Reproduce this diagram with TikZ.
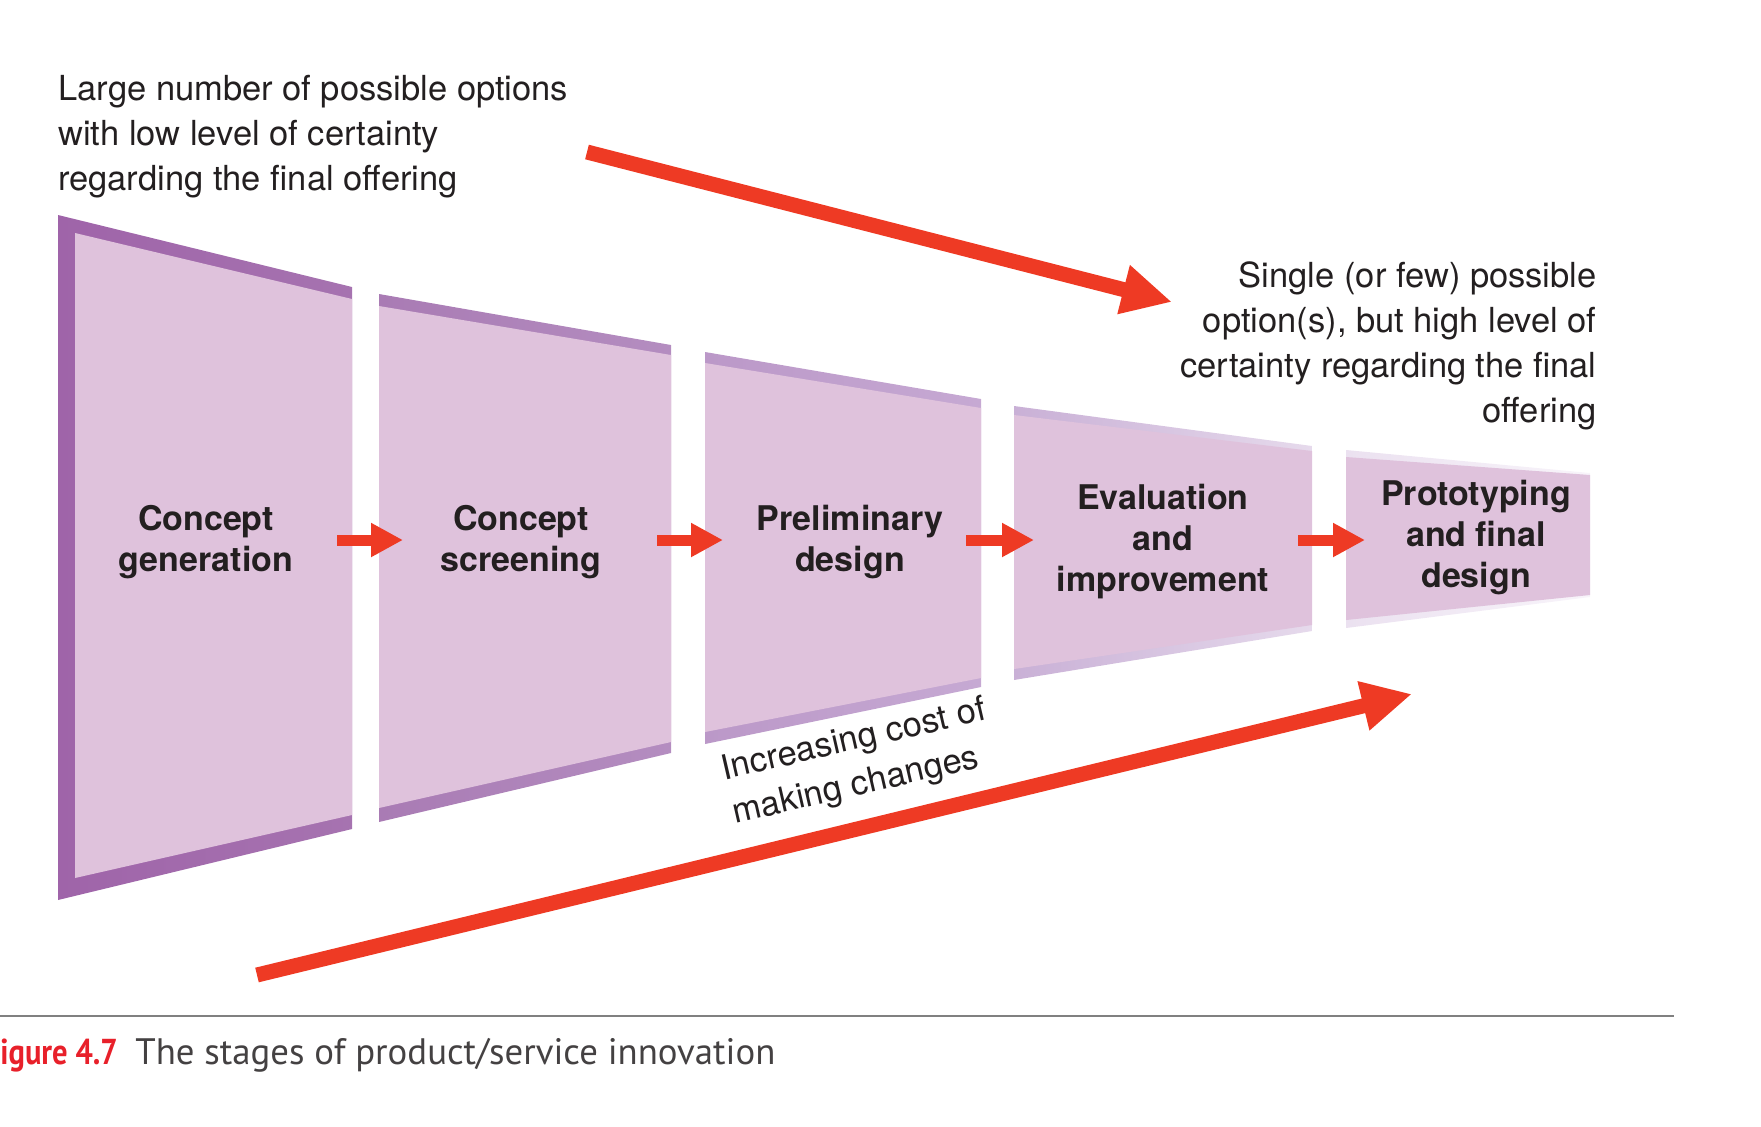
\documentclass[tikz,border=0pt]{standalone}
\usepackage{fontspec}
\setmainfont{TeX Gyre Heros}
\newfontfamily\capfont{PT Sans}
\usetikzlibrary{arrows.meta}
\definecolor{fond}{HTML}{DFC2DC}
\definecolor{rouge}{HTML}{EE3A24}
\definecolor{texte}{HTML}{231F20}
\definecolor{capred}{HTML}{E8202A}
\definecolor{bordA}{HTML}{9F64A9}
\definecolor{bordB}{HTML}{A673B0}
\definecolor{bordC}{HTML}{A97BB4}
\definecolor{bordD}{HTML}{B48DC0}
\definecolor{bordE}{HTML}{BB98C8}
\definecolor{bordF}{HTML}{C6A9D3}
\definecolor{bordG}{HTML}{C9B0D6}
\definecolor{bordH}{HTML}{E6DAEC}
\definecolor{bordI}{HTML}{EBE1F0}
\definecolor{bordJ}{HTML}{F8F4FA}

\begin{document}
\begin{tikzpicture}[x=0.5pt,y=-0.5pt]
\tikzset{etape/.style={font=\fontsize{17}{20.5}\selectfont\bfseries, align=center, text=texte, inner sep=0pt},
  remarque/.style={font=\fontsize{17.25}{22.5}\selectfont, text=texte, inner sep=0pt},
  petitefleche/.style={draw=rouge, line width=5.5pt, -{Triangle[length=16pt,width=16pt]}},
  grandefleche/.style={draw=rouge, line width=7.5pt, -{Triangle[length=25pt,width=23.5pt]}}}
\useasboundingbox (0,0) rectangle (1761,1126);
\shade[left color=bordA, right color=bordB] (58,215) -- (352,287) -- (352,829) -- (58,900) -- cycle;
\fill[fond] (75,233) -- (352,299) -- (352,815) -- (75,878) -- cycle;
\shade[left color=bordC, right color=bordD] (379,294) -- (671,345) -- (671,753) -- (379,822) -- cycle;
\fill[fond] (379,306) -- (671,355) -- (671,742) -- (379,808) -- cycle;
\shade[left color=bordE, right color=bordF] (705,352) -- (981,399) -- (981,687) -- (705,744) -- cycle;
\fill[fond] (705,363) -- (981,408) -- (981,678) -- (705,732) -- cycle;
\shade[left color=bordG, right color=bordH] (1014,406) -- (1312,446) -- (1312,631) -- (1014,680) -- cycle;
\fill[fond] (1014,415) -- (1312,451) -- (1312,625) -- (1014,669) -- cycle;
\shade[left color=bordI, right color=bordJ] (1346,450) -- (1590,473) -- (1590,597) -- (1346,628) -- cycle;
\fill[fond] (1346,457) -- (1590,475) -- (1590,595) -- (1346,620) -- cycle;
\node[etape] (E1) at (206,542) {Concept\\generation};
\node[etape] (E2) at (521,542) {Concept\\screening};
\node[etape] (E3) at (850,542) {Preliminary\\design};
\node[etape] (E4) at (1163,542) {Evaluation\\and\\improvement};
\node[etape] (E5) at (1476,538) {Prototyping\\and final\\design};
\coordinate (F1a) at (337,540);
\coordinate (F1b) at (403,540);
\coordinate (F2a) at (657,540);
\coordinate (F2b) at (723,540);
\coordinate (F3a) at (966,540);
\coordinate (F3b) at (1034,540);
\coordinate (F4a) at (1298,540);
\coordinate (F4b) at (1365,540);
\draw[petitefleche] (F1a) -- (F1b);
\draw[petitefleche] (F2a) -- (F2b);
\draw[petitefleche] (F3a) -- (F3b);
\draw[petitefleche] (F4a) -- (F4b);
\node[remarque, align=left, anchor=north west] (R1) at (58,75) {Large number of possible options\\with low level of certainty\\regarding the final offering};
\node[remarque, align=right, anchor=north east] (R2) at (1597,261) {Single (or few) possible\\option(s), but high level of\\certainty regarding the final\\offering};
\node[remarque, align=center, rotate=13] (R3) at (859,763) {Increasing cost of\\making changes\rule{8pt}{0pt}};
\coordinate (H1) at (587,152);
\coordinate (H2) at (1172,302);
\coordinate (B1) at (257,975);
\coordinate (B2) at (1412,694);
\draw[grandefleche] (H1) -- (H2);
\draw[grandefleche] (B1) -- (B2);
\draw[gray, line width=1pt] (0,1016) -- (1674,1016);
\node[font=\capfont\fontsize{18}{22}\selectfont\bfseries, text=capred, anchor=base west, inner sep=0pt] (fig) at (0,1064) {\scalebox{0.85}[1]{igure 4.7}};
\node[font=\capfont\fontsize{18.4}{22}\selectfont, text=texte!85, anchor=base west, inner sep=0pt] (titre) at (135,1064) {The stages of product/service innovation};
\end{tikzpicture}
\end{document}
